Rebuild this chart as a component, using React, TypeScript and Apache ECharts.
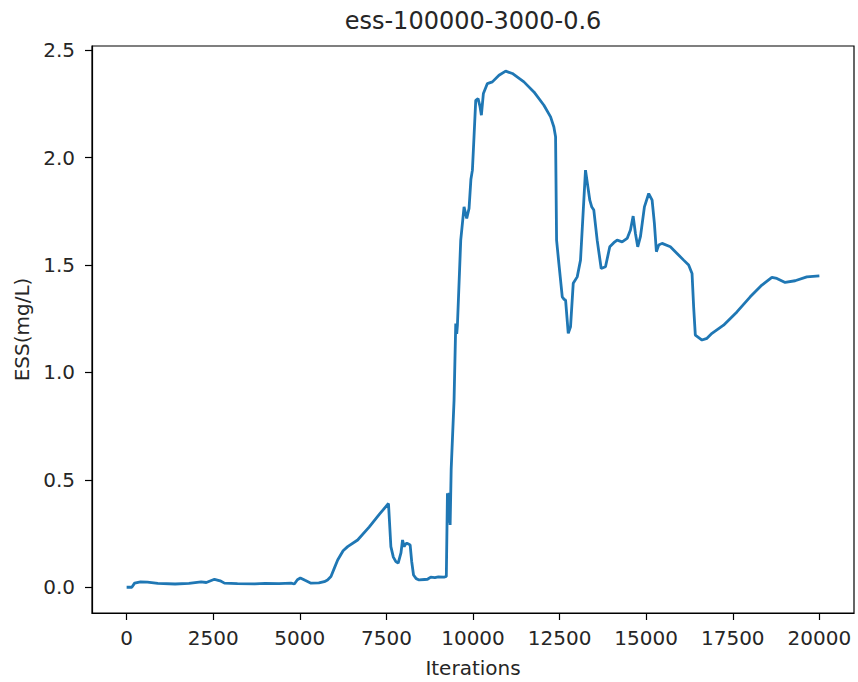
import React, { useEffect, useRef } from "react";
import * as echarts from "echarts";

const titleText = "ess-100000-3000-0.6";
const xAxisName = "Iterations";
const yAxisName = "ESS(mg/L)";

const xTicks = [0, 2500, 5000, 7500, 10000, 12500, 15000, 17500, 20000];
const yTicks = [0, 0.5, 1.0, 1.5, 2.0, 2.5];

const iterations = [
  0, 150, 230, 400, 600, 900, 1400, 1800, 2150, 2300, 2536, 2700, 2824, 3200, 3700, 4000, 4400,
  4746, 4842, 4930, 5015, 5150, 5323, 5550, 5707, 5800, 5899, 6000, 6093, 6250, 6381, 6669, 7000,
  7300, 7560, 7629, 7700, 7773, 7840, 7920, 7966, 8013, 8050, 8090, 8150, 8185, 8230, 8283, 8360,
  8445, 8600, 8686, 8781, 8900, 9000, 9165, 9230, 9262, 9290, 9310, 9340, 9370, 9453, 9502, 9530,
  9550, 9646, 9742, 9819, 9886, 9940, 9983, 10030, 10079, 10146, 10200, 10242, 10300, 10415, 10559,
  10751, 10943, 11136, 11470, 11759, 12047, 12240, 12335, 12384, 12413, 12479, 12577, 12630, 12673,
  12750, 12816, 12894, 13009, 13104, 13248, 13372, 13430, 13488, 13585, 13701, 13825, 13949, 14065,
  14162, 14306, 14450, 14546, 14624, 14690, 14756, 14834, 14949, 15073, 15171, 15237, 15295, 15362,
  15459, 15698, 15891, 16082, 16226, 16324, 16370, 16419, 16612, 16756, 16900, 17234, 17620, 18004,
  18341, 18629, 18773, 19012, 19300, 19638, 20000,
];

const essValues = [
  0.0, 0.0, 0.019, 0.025, 0.024, 0.018, 0.015, 0.018, 0.025, 0.022, 0.037, 0.03, 0.019, 0.017, 0.016,
  0.018, 0.017, 0.019, 0.015, 0.035, 0.043, 0.032, 0.019, 0.02, 0.026, 0.034, 0.05, 0.09, 0.127, 0.17,
  0.189, 0.22, 0.28, 0.34, 0.39, 0.189, 0.14, 0.119, 0.112, 0.16, 0.22, 0.189, 0.2, 0.205, 0.2, 0.197,
  0.12, 0.057, 0.04, 0.034, 0.036, 0.037, 0.047, 0.045, 0.048, 0.047, 0.05, 0.437, 0.3, 0.44, 0.29,
  0.55, 0.87, 1.228, 1.18, 1.22, 1.616, 1.771, 1.717, 1.764, 1.9, 1.942, 2.1, 2.267, 2.275, 2.24,
  2.198, 2.299, 2.345, 2.353, 2.384, 2.403, 2.392, 2.353, 2.306, 2.244, 2.19, 2.143, 2.097, 1.616,
  1.508, 1.352, 1.34, 1.337, 1.182, 1.213, 1.415, 1.445, 1.523, 1.942, 1.802, 1.77, 1.756, 1.616,
  1.484, 1.492, 1.585, 1.604, 1.616, 1.608, 1.624, 1.663, 1.728, 1.647, 1.585, 1.632, 1.771, 1.833,
  1.802, 1.694, 1.562, 1.593, 1.601, 1.585, 1.554, 1.523, 1.5, 1.461, 1.306, 1.174, 1.151, 1.159,
  1.182, 1.22, 1.282, 1.352, 1.407, 1.443, 1.438, 1.419, 1.427, 1.445, 1.45,
];

const FONT = "DejaVu Sans";
const TEXT = "#262626";

export default function App() {
  const ref = useRef<HTMLDivElement>(null);
  useEffect(() => {
    if (!ref.current) return;
    const chart = echarts.init(ref.current, undefined, { renderer: "svg" });
    const data = iterations.map((x, i) => [x, essValues[i]]);
    const gridLeft = 92;
    const gridTop = 46;
    const gridWidth = 762;
    const gridHeight = 567;
    chart.setOption({
      animation: false,
      backgroundColor: "#ffffff",
      title: {
        text: titleText,
        left: gridLeft + gridWidth / 2,
        textAlign: "center",
        top: 9,
        padding: 0,
        textStyle: { fontFamily: FONT, fontSize: 24, fontWeight: "normal", color: TEXT },
      },
      grid: {
        left: gridLeft,
        top: gridTop,
        width: gridWidth,
        height: gridHeight,
        containLabel: false,
        outerBoundsMode: "none",
        show: true,
        borderColor: "#000",
        borderWidth: 1.2,
        backgroundColor: "transparent",
      },
      xAxis: {
        type: "value",
        min: -1000,
        max: 21000,
        name: xAxisName,
        nameLocation: "middle",
        nameGap: 45,
        nameTextStyle: { fontFamily: FONT, fontSize: 20, color: TEXT },
        splitLine: { show: false },
        axisLine: { show: true, onZero: false, lineStyle: { color: "#000", width: 1.2 } },
        axisTick: {
          show: true,
          length: 7,
          inside: false,
          lineStyle: { color: "#000", width: 1.2 },
          customValues: xTicks,
        },
        axisLabel: {
          fontFamily: FONT,
          fontSize: 20,
          color: TEXT,
          margin: 15,
          customValues: xTicks,
          formatter: (v: number) => String(v),
        },
      },
      yAxis: {
        type: "value",
        min: -0.12,
        max: 2.52,
        name: yAxisName,
        nameLocation: "middle",
        nameGap: 60,
        nameRotate: 90,
        nameTextStyle: { fontFamily: FONT, fontSize: 20, color: TEXT },
        splitLine: { show: false },
        axisLine: { show: true, onZero: false, lineStyle: { color: "#000", width: 1.2 } },
        axisTick: {
          show: true,
          length: 7,
          lineStyle: { color: "#000", width: 1.2 },
          customValues: yTicks,
        },
        axisLabel: {
          fontFamily: FONT,
          fontSize: 20,
          color: TEXT,
          margin: 17,
          customValues: yTicks,
          formatter: (v: number) => v.toFixed(1),
        },
      },
      series: [
        {
          type: "line",
          data,
          showSymbol: false,
          symbol: "none",
          lineStyle: { color: "#1f77b4", width: 2.8 },
          z: 3,
        },
      ],
    });
    return () => chart.dispose();
  }, []);
  return (
    <div
      ref={ref}
      style={{ position: "fixed", left: 0, top: 0, width: 858, height: 682, background: "#fff" }}
    />
  );
}
